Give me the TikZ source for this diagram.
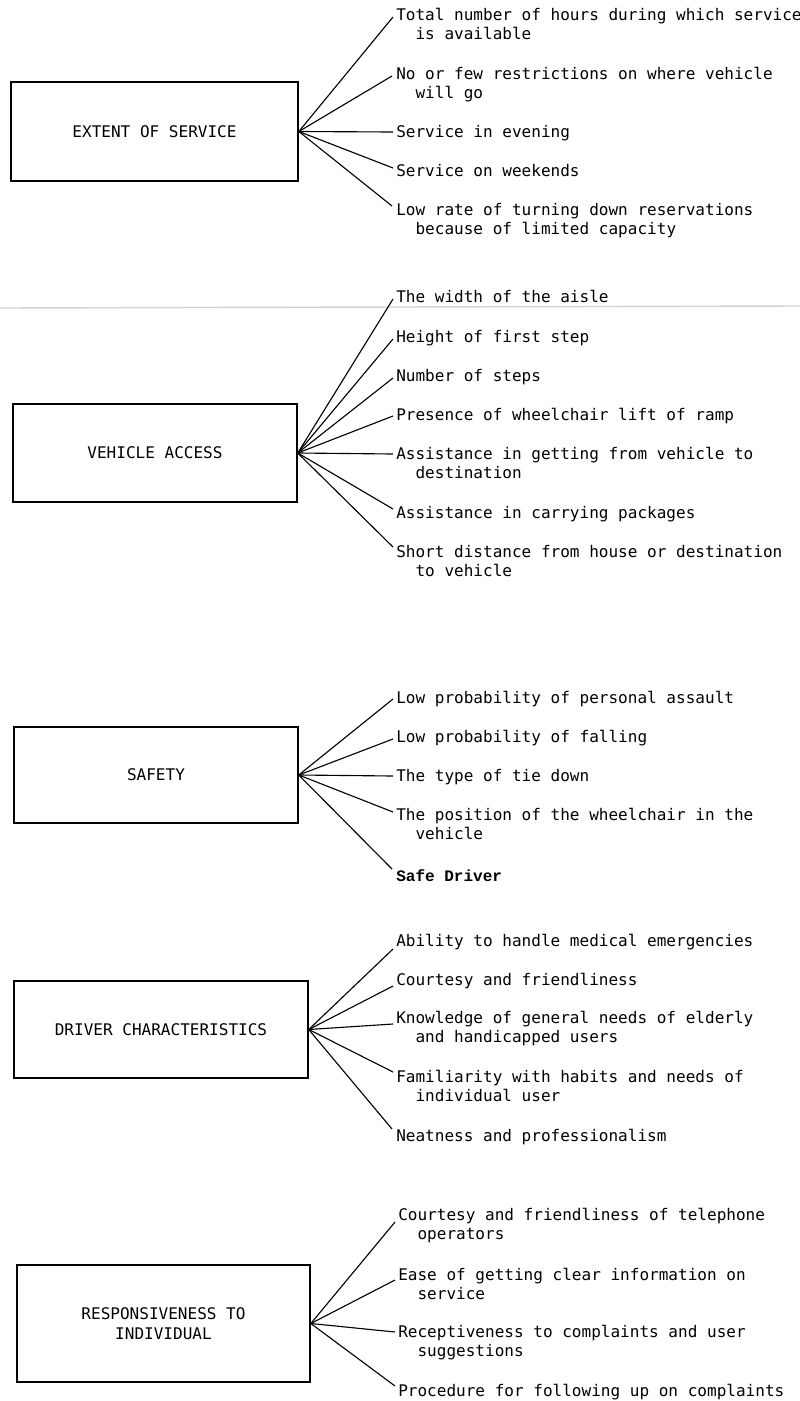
\documentclass[tikz,border=0pt]{standalone}
\usepackage{fontspec}
\setmonofont{DejaVu Sans Mono}
\newfontfamily\driverfont{Liberation Mono}
\usepackage{tikz}

\newcommand{\twoline}[2]{\begin{tabular}[t]{@{}l@{}}#1\\\phantom{xx}#2\end{tabular}}

\tikzset{
  catbox/.style={draw, line width=1pt, align=center},
  item/.style={anchor=base west, inner sep=0pt},
  spoke/.style={line width=0.8pt},
}

\begin{document}
\begin{tikzpicture}[x=0.025cm, y=-0.025cm,
    font=\ttfamily\fontsize{11.4}{13.9}\selectfont]
  \useasboundingbox (0,0) rectangle (800,1401);

  % scan edge
  \draw[gray!35, line width=1pt] (0,308) -- (800,306);

  % Extent of service
  \node[catbox, minimum width=7.18cm, minimum height=2.48cm] (es) at (154.5,131.5) {EXTENT OF SERVICE};
  \node[item] (es1) at (396,20) {\twoline{Total number of hours during which service}{is available}};
  \node[item] (es2) at (396,79) {\twoline{No or few restrictions on where vehicle}{will go}};
  \node[item] (es3) at (396,137) {Service in evening};
  \node[item] (es4) at (396,176) {Service on weekends};
  \node[item] (es5) at (396,215) {\twoline{Low rate of turning down reservations}{because of limited capacity}};
  \draw[spoke] (es.east) -- ([shift={(-3,-3)}]es1.base west);
  \draw[spoke] (es.east) -- ([shift={(-4,-3)}]es2.base west);
  \draw[spoke] (es.east) -- ([shift={(-3,-5)}]es3.base west);
  \draw[spoke] (es.east) -- ([shift={(-3,-8)}]es4.base west);
  \draw[spoke] (es.east) -- ([shift={(-4,-9)}]es5.base west);

  % Vehicle access
  \node[catbox, minimum width=7.10cm, minimum height=2.45cm] (va) at (155,453) {VEHICLE ACCESS};
  \node[item] (va1) at (396,302) {The width of the aisle};
  \node[item] (va2) at (396,342) {Height of first step};
  \node[item] (va3) at (396,381) {Number of steps};
  \node[item] (va4) at (396,420) {Presence of wheelchair lift of ramp};
  \node[item] (va5) at (396,459) {\twoline{Assistance in getting from vehicle to}{destination}};
  \node[item] (va6) at (396,518) {Assistance in carrying packages};
  \node[item] (va7) at (396,557) {\twoline{Short distance from house or destination}{to vehicle}};
  \draw[spoke] (va.east) -- ([shift={(-3,-3)}]va1.base west);
  \draw[spoke] (va.east) -- ([shift={(-3,-3)}]va2.base west);
  \draw[spoke] (va.east) -- ([shift={(-3,-3)}]va3.base west);
  \draw[spoke] (va.east) -- ([shift={(-3,-4)}]va4.base west);
  \draw[spoke] (va.east) -- ([shift={(-3,-5)}]va5.base west);
  \draw[spoke] (va.east) -- ([shift={(-3,-9)}]va6.base west);
  \draw[spoke] (va.east) -- ([shift={(-3,-10)}]va7.base west);

  % Safety
  \node[catbox, minimum width=7.10cm, minimum height=2.40cm] (sf) at (156,775) {SAFETY};
  \node[item] (sf1) at (396,703) {Low probability of personal assault};
  \node[item] (sf2) at (396,742) {Low probability of falling};
  \node[item] (sf3) at (396,781) {The type of tie down};
  \node[item] (sf4) at (396,820) {\twoline{The position of the wheelchair in the}{vehicle}};
  \node[item, font=\driverfont\bfseries\fontsize{11.4}{13.9}\selectfont] (sf5) at (396,881) {Safe Driver};
  \draw[spoke] (sf.east) -- ([shift={(-3,-4)}]sf1.base west);
  \draw[spoke] (sf.east) -- ([shift={(-3,-3)}]sf2.base west);
  \draw[spoke] (sf.east) -- ([shift={(-3,-5)}]sf3.base west);
  \draw[spoke] (sf.east) -- ([shift={(-3,-8)}]sf4.base west);
  \draw[spoke] (sf.east) -- ([shift={(-4,-12)}]sf5.base west);

  % Driver characteristics
  \node[catbox, minimum width=7.35cm, minimum height=2.43cm] (dc) at (161,1029.5) {DRIVER CHARACTERISTICS};
  \node[item] (dc1) at (396,946) {Ability to handle medical emergencies};
  \node[item] (dc2) at (396,985) {Courtesy and friendliness};
  \node[item] (dc3) at (396,1023) {\twoline{Knowledge of general needs of elderly}{and handicapped users}};
  \node[item] (dc4) at (396,1082) {\twoline{Familiarity with habits and needs of}{individual user}};
  \node[item] (dc5) at (396,1141) {Neatness and professionalism};
  \draw[spoke] (dc.east) -- ([shift={(-3,3)}]dc1.base west);
  \draw[spoke] (dc.east) -- ([shift={(-3,1)}]dc2.base west);
  \draw[spoke] (dc.east) -- ([shift={(-3,1)}]dc3.base west);
  \draw[spoke] (dc.east) -- ([shift={(-3,-10)}]dc4.base west);
  \draw[spoke] (dc.east) -- ([shift={(-4,-12)}]dc5.base west);

  % Responsiveness to individual
  \node[catbox, minimum width=7.33cm, minimum height=2.93cm] (ri) at (163.5,1323.5) {RESPONSIVENESS TO\\INDIVIDUAL};
  \node[item] (ri1) at (398,1220) {\twoline{Courtesy and friendliness of telephone}{operators}};
  \node[item] (ri2) at (398,1280) {\twoline{Ease of getting clear information on}{service}};
  \node[item] (ri3) at (398,1337) {\twoline{Receptiveness to complaints and user}{suggestions}};
  \node[item] (ri4) at (398,1396) {Procedure for following up on complaints};
  \draw[spoke] (ri.east) -- ([shift={(-3,2)}]ri1.base west);
  \draw[spoke] (ri.east) -- ([shift={(-3,0)}]ri2.base west);
  \draw[spoke] (ri.east) -- ([shift={(-3,-5)}]ri3.base west);
  \draw[spoke] (ri.east) -- ([shift={(-3,-10)}]ri4.base west);
\end{tikzpicture}
\end{document}
